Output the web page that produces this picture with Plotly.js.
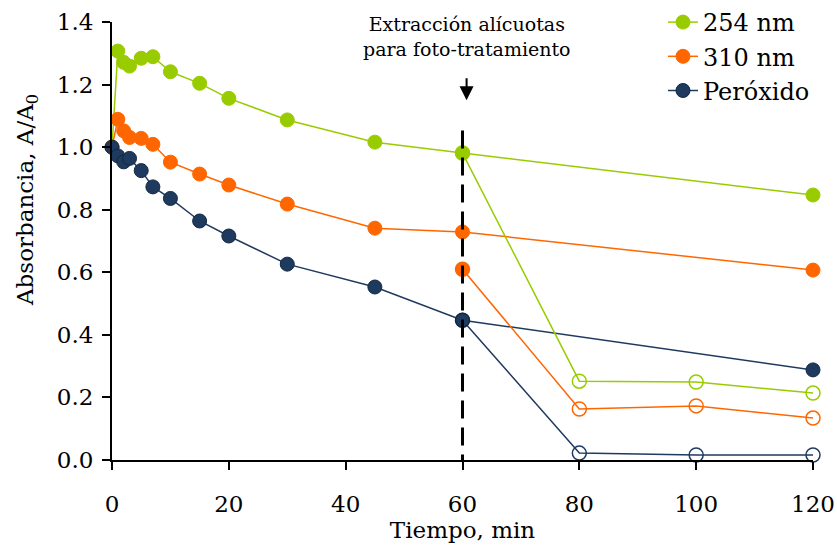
<!DOCTYPE html>
<html><head><meta charset="utf-8">
<script src="https://cdn.plot.ly/plotly-3.0.1.min.js"></script>
<style>body{margin:0}#c{width:837px;height:549px}</style>
</head><body><div id="c"></div>
<script>
const tFilled = [0, 1, 2, 3, 5, 7, 10, 15, 20, 30, 45, 60, 120];
const a254 = [1.0, 1.307, 1.271, 1.259, 1.284, 1.289, 1.241, 1.204, 1.156, 1.087, 1.016, 0.981, 0.847];
const a310 = [1.0, 1.089, 1.052, 1.031, 1.028, 1.009, 0.952, 0.914, 0.879, 0.818, 0.741, 0.729, 0.607];
const aPer = [1.0, 0.972, 0.953, 0.964, 0.925, 0.873, 0.836, 0.764, 0.716, 0.626, 0.553, 0.447, 0.288];
const tOpen = [60, 80, 100, 120];
const b254 = [0.981, 0.252, 0.249, 0.214];
const b310 = [0.610, 0.163, 0.173, 0.134];
const bPer = [0.447, 0.022, 0.016, 0.016];
const names = ['254 nm', '310 nm', 'Peróxido'];
const colors = ['#99CC00', '#FF6600', '#1F3A5F'];
const yTickVals = [0, 0.2, 0.4, 0.6, 0.8, 1.0, 1.2, 1.4];
const yTickText = ['0.0', '0.2', '0.4', '0.6', '0.8', '1.0', '1.2', '1.4'];
const xTickVals = [0, 20, 40, 60, 80, 100, 120];

const filled = [a254, a310, aPer];
const open = [b254, b310, bPer];
const traces = [];
for (let i = 0; i < 3; i++) {
  traces.push({
    x: tFilled, y: filled[i], name: names[i], mode: 'lines+markers', cliponaxis: false,
    line: {color: colors[i], width: 1.5},
    marker: {color: colors[i], size: 14, line: {color: i === 2 ? '#132840' : colors[i], width: 1}}
  });
}
for (let i = 0; i < 3; i++) {
  traces.push({
    x: tOpen, y: open[i], showlegend: false, mode: 'lines+markers', cliponaxis: false,
    line: {color: colors[i], width: 1.5},
    marker: {color: colors[i], size: 14,
      symbol: ['circle', 'circle-open', 'circle-open', 'circle-open'],
      line: {color: i === 2 ? '#132840' : colors[i], width: 1.5}}
  });
}
const font = 'DejaVu Serif, serif';
const layout = {
  width: 837, height: 549,
  margin: {l: 112, r: 24, t: 22, b: 89, autoexpand: false},
  paper_bgcolor: '#fff', plot_bgcolor: '#fff',
  font: {family: font, color: '#000', size: 22},
  showlegend: true,
  legend: {x: 0.786, y: 1.0, xref: 'paper', yref: 'container', xanchor: 'left', yanchor: 'top',
    bgcolor: 'rgba(0,0,0,0)', font: {size: 24, family: font}},
  xaxis: {range: [0, 120], tickvals: xTickVals, showgrid: false, zeroline: false,
    showline: true, linecolor: '#000', linewidth: 2, ticks: 'outside', ticklen: 8, tickwidth: 2, tickcolor: '#000',
    tickfont: {size: 23}, ticklabelstandoff: 14,
    title: {text: 'Tiempo, min', font: {size: 23}, standoff: 4}},
  yaxis: {range: [0, 1.4], tickvals: yTickVals, ticktext: yTickText,
    showgrid: false, zeroline: false,
    showline: true, linecolor: '#000', linewidth: 2, ticks: 'outside', ticklen: 8, tickwidth: 2, tickcolor: '#000',
    tickfont: {size: 23}, ticklabelstandoff: 4},
  shapes: [{type: 'line', xref: 'x', yref: 'y', x0: 60, x1: 60, y0: -0.04, y1: 1.07,
    line: {color: '#000', width: 3, dash: '18px,9px'}}],
  annotations: [
    {xref: 'paper', yref: 'paper', x: -85 / 701, y: (460 - 200) / 438, text: 'Absorbancia, A/A<sub>0</sub>',
     textangle: -90, showarrow: false, xanchor: 'center', yanchor: 'middle', font: {size: 23}},
    {xref: 'x', yref: 'paper', x: 60.7, y: 1.025, text: 'Extracción alícuotas<br>para foto-tratamiento',
     showarrow: false, yanchor: 'top', font: {size: 19}, align: 'center'},
    {xref: 'x', yref: 'y', x: 60.7, y: 1.15, ax: 60.7, ay: 1.225, axref: 'x', ayref: 'y', text: '',
     showarrow: true, arrowhead: 2, arrowsize: 1.4, arrowwidth: 2, arrowcolor: '#000'}
  ]
};
Plotly.newPlot('c', traces, layout, {displayModeBar: false});
</script></body></html>
